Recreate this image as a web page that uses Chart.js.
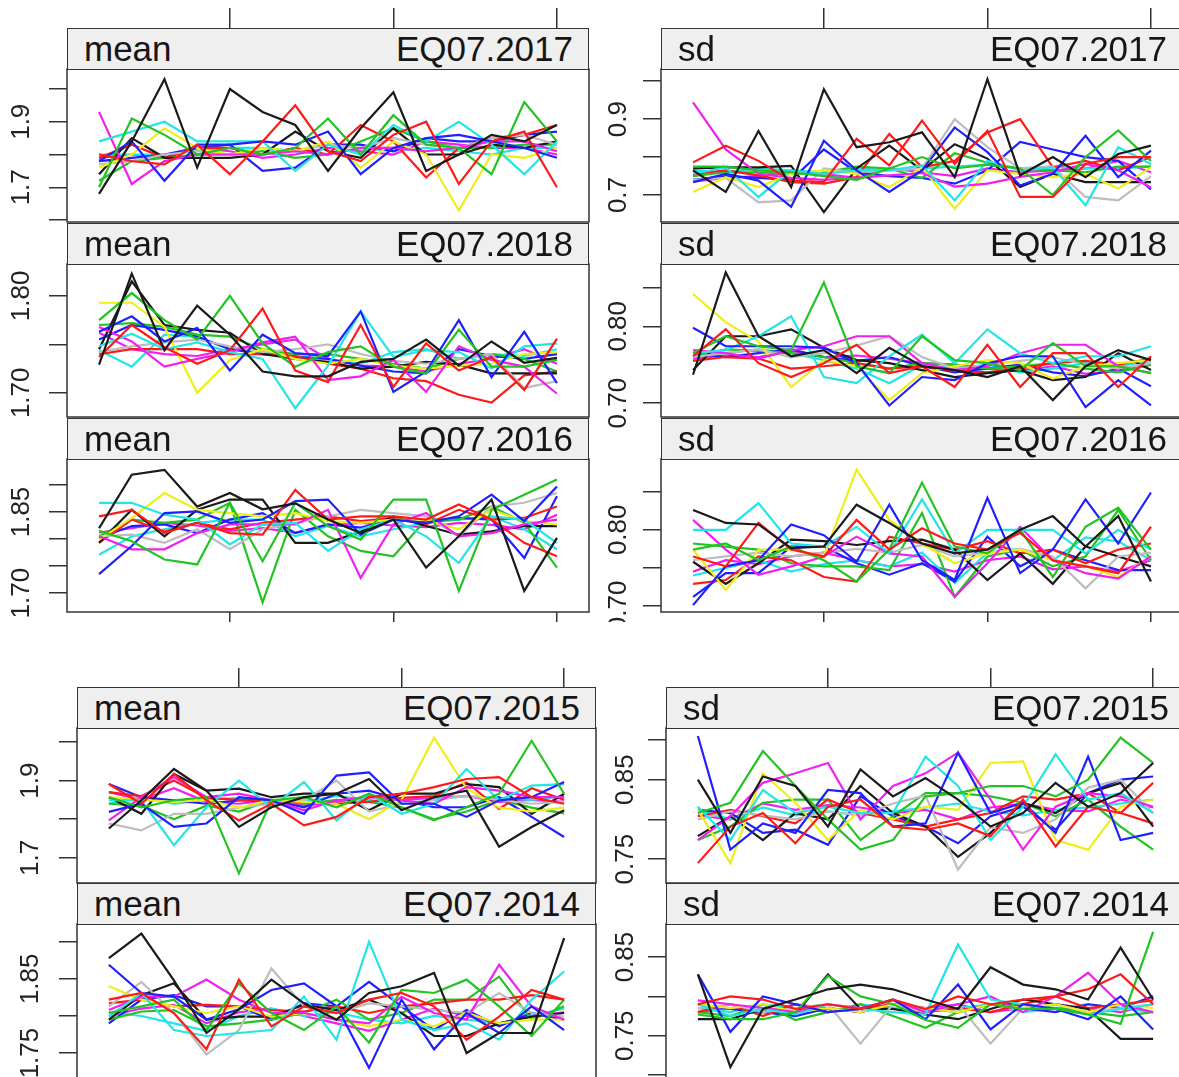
<!DOCTYPE html>
<html>
<head>
<meta charset="utf-8">
<script src="https://cdn.jsdelivr.net/npm/chart.js@4.4.1/dist/chart.umd.min.js"></script>
<style>
  html, body { margin: 0; padding: 0; background: #fff; width: 1179px; height: 1077px; overflow: hidden; }
  .group { position: absolute; left: 0; top: 0; width: 1179px; overflow: hidden; }
  .group canvas { position: absolute; }
  .strip { position: absolute; box-sizing: border-box; background: #efefef; border: 1.5px solid #333;
           font-family: "Liberation Sans", Arial, Helvetica, sans-serif; font-size: 35px; color: #161616; z-index: 2; }
  .strip span { position: absolute; top: 50%; transform: translateY(-52%); line-height: 1; white-space: nowrap; }
  .strip .l { left: 16px; }
  .strip .r { right: 15px; }
</style>
</head>
<body>
<div id="upper" class="group" style="height:622px"></div>
<div id="lower" class="group" style="height:1077px"></div>
<script>
// position of each value along the trace
const steps = [1, 2, 3, 4, 5, 6, 7, 8, 9, 10, 11, 12, 13, 14, 15];

// trace colours, in drawing order
const seriesColors = ['#1a1a1a', '#ff1a1a', '#22c322', '#2020ff', '#22e5e5', '#f020f0', '#eeee1a', '#bdbdbd',
                      '#1a1a1a', '#ff1a1a', '#22c322', '#2020ff', '#22e5e5', '#f020f0'];

// ---- EQ07.2017 ----
const mean2017 = [
  [1.68,1.84,2.03,1.76,2.00,1.93,1.89,1.75,1.88,1.99,1.75,1.80,1.86,1.84,1.89],
  [1.80,1.78,1.77,1.83,1.74,1.84,1.95,1.81,1.78,1.86,1.90,1.71,1.84,1.87,1.70],
  [1.70,1.91,1.86,1.80,1.82,1.80,1.82,1.91,1.80,1.92,1.83,1.82,1.74,1.96,1.84],
  [1.78,1.84,1.72,1.83,1.83,1.84,1.83,1.87,1.74,1.82,1.85,1.86,1.84,1.82,1.79],
  [1.84,1.87,1.90,1.84,1.84,1.84,1.75,1.83,1.80,1.89,1.84,1.90,1.83,1.74,1.84],
  [1.93,1.71,1.78,1.80,1.80,1.80,1.81,1.80,1.82,1.82,1.81,1.82,1.84,1.84,1.81],
  [1.76,1.80,1.88,1.82,1.80,1.82,1.81,1.84,1.76,1.84,1.80,1.63,1.80,1.79,1.82],
  [1.77,1.78,1.80,1.81,1.80,1.80,1.81,1.83,1.82,1.85,1.83,1.82,1.85,1.86,1.83],
  [1.74,1.85,1.79,1.79,1.79,1.80,1.87,1.81,1.79,1.88,1.80,1.80,1.83,1.82,1.84],
  [1.79,1.83,1.79,1.82,1.82,1.80,1.82,1.80,1.89,1.84,1.73,1.82,1.85,1.86,1.89],
  [1.72,1.78,1.79,1.80,1.80,1.81,1.79,1.80,1.84,1.88,1.84,1.82,1.82,1.83,1.83],
  [1.78,1.79,1.80,1.82,1.83,1.75,1.76,1.83,1.83,1.81,1.85,1.84,1.84,1.86,1.87],
  [1.80,1.80,1.80,1.81,1.82,1.82,1.81,1.80,1.82,1.81,1.82,1.81,1.80,1.82,1.82],
  [1.79,1.80,1.79,1.82,1.81,1.79,1.80,1.82,1.81,1.80,1.84,1.83,1.82,1.82,1.80]
];
const sd2017 = [
  [0.765,0.708,0.869,0.721,0.979,0.826,0.839,0.865,0.747,1.005,0.752,0.800,0.747,0.808,0.830],
  [0.786,0.830,0.790,0.738,0.734,0.848,0.778,0.896,0.782,0.869,0.695,0.695,0.782,0.800,0.800],
  [0.775,0.775,0.765,0.760,0.750,0.740,0.770,0.800,0.770,0.780,0.770,0.700,0.800,0.870,0.790],
  [0.734,0.756,0.738,0.669,0.843,0.765,0.708,0.765,0.878,0.813,0.725,0.756,0.856,0.747,0.817],
  [0.756,0.773,0.695,0.765,0.756,0.765,0.765,0.778,0.686,0.790,0.765,0.773,0.673,0.826,0.782],
  [0.944,0.820,0.756,0.745,0.740,0.745,0.752,0.758,0.722,0.730,0.748,0.760,0.782,0.765,0.720],
  [0.708,0.747,0.721,0.756,0.765,0.756,0.721,0.773,0.664,0.765,0.756,0.747,0.756,0.717,0.773],
  [0.740,0.745,0.681,0.686,0.770,0.760,0.765,0.770,0.900,0.826,0.770,0.775,0.695,0.686,0.750],
  [0.770,0.773,0.773,0.777,0.655,0.770,0.830,0.765,0.834,0.796,0.721,0.756,0.734,0.734,0.734],
  [0.756,0.765,0.752,0.734,0.730,0.747,0.861,0.773,0.790,0.865,0.900,0.773,0.790,0.765,0.800],
  [0.750,0.760,0.760,0.755,0.760,0.775,0.770,0.745,0.810,0.785,0.770,0.765,0.760,0.775,0.775],
  [0.740,0.750,0.745,0.740,0.820,0.760,0.750,0.745,0.730,0.765,0.840,0.820,0.800,0.790,0.715],
  [0.765,0.760,0.770,0.765,0.760,0.770,0.765,0.770,0.775,0.780,0.770,0.775,0.770,0.770,0.775],
  [0.735,0.745,0.750,0.760,0.755,0.745,0.770,0.760,0.750,0.770,0.760,0.765,0.770,0.790,0.760]
];

// ---- EQ07.2018 ----
const mean2018 = [
  [1.729,1.823,1.744,1.790,1.760,1.722,1.717,1.717,1.732,1.735,1.755,1.728,1.753,1.731,1.736],
  [1.737,1.770,1.747,1.730,1.744,1.787,1.723,1.711,1.770,1.706,1.751,1.723,1.737,1.703,1.756],
  [1.775,1.803,1.775,1.755,1.800,1.751,1.727,1.742,1.748,1.727,1.720,1.765,1.727,1.727,1.734],
  [1.763,1.779,1.753,1.767,1.723,1.760,1.741,1.738,1.784,1.701,1.722,1.775,1.716,1.763,1.710],
  [1.748,1.761,1.745,1.752,1.742,1.735,1.684,1.728,1.784,1.737,1.744,1.742,1.725,1.748,1.751],
  [1.768,1.753,1.727,1.735,1.742,1.752,1.758,1.713,1.717,1.734,1.701,1.748,1.734,1.727,1.699],
  [1.793,1.793,1.768,1.700,1.734,1.745,1.735,1.730,1.735,1.728,1.725,1.728,1.730,1.740,1.742],
  [1.742,1.748,1.752,1.755,1.748,1.742,1.745,1.750,1.740,1.733,1.730,1.735,1.740,1.705,1.712],
  [1.745,1.815,1.770,1.765,1.762,1.740,1.735,1.732,1.725,1.727,1.732,1.729,1.720,1.720,1.720],
  [1.740,1.745,1.745,1.745,1.740,1.740,1.738,1.730,1.725,1.715,1.712,1.698,1.690,1.718,1.722],
  [1.770,1.772,1.768,1.760,1.758,1.745,1.740,1.740,1.735,1.730,1.725,1.735,1.740,1.735,1.722],
  [1.755,1.770,1.765,1.758,1.745,1.740,1.737,1.735,1.728,1.722,1.720,1.745,1.738,1.735,1.740],
  [1.744,1.727,1.760,1.758,1.745,1.742,1.738,1.735,1.730,1.742,1.745,1.735,1.740,1.738,1.745],
  [1.762,1.745,1.740,1.738,1.745,1.750,1.755,1.735,1.728,1.727,1.722,1.730,1.735,1.745,1.730]
];
const sd2018 = [
  [0.737,0.870,0.787,0.761,0.769,0.739,0.772,0.748,0.743,0.734,0.748,0.704,0.748,0.769,0.756],
  [0.761,0.796,0.752,0.734,0.752,0.776,0.739,0.748,0.721,0.776,0.721,0.765,0.765,0.721,0.761],
  [0.765,0.787,0.774,0.769,0.857,0.748,0.739,0.787,0.756,0.752,0.743,0.778,0.748,0.748,0.739],
  [0.798,0.774,0.774,0.774,0.772,0.752,0.697,0.734,0.730,0.752,0.761,0.761,0.695,0.730,0.697],
  [0.765,0.769,0.787,0.813,0.734,0.726,0.761,0.789,0.752,0.796,0.765,0.752,0.761,0.761,0.774],
  [0.769,0.765,0.758,0.769,0.774,0.787,0.787,0.752,0.743,0.748,0.765,0.776,0.776,0.748,0.739],
  [0.842,0.805,0.780,0.721,0.756,0.748,0.704,0.739,0.748,0.756,0.752,0.732,0.748,0.752,0.756],
  [0.760,0.765,0.770,0.760,0.765,0.775,0.787,0.760,0.745,0.750,0.755,0.760,0.750,0.745,0.752],
  [0.743,0.787,0.787,0.796,0.772,0.756,0.752,0.743,0.734,0.739,0.743,0.730,0.734,0.765,0.743],
  [0.755,0.760,0.758,0.745,0.748,0.752,0.745,0.748,0.742,0.740,0.745,0.752,0.755,0.750,0.758],
  [0.760,0.770,0.768,0.765,0.760,0.752,0.745,0.752,0.750,0.745,0.748,0.752,0.745,0.740,0.750],
  [0.765,0.760,0.765,0.770,0.760,0.755,0.760,0.748,0.740,0.745,0.750,0.740,0.735,0.745,0.722],
  [0.762,0.765,0.770,0.765,0.756,0.745,0.726,0.750,0.745,0.750,0.740,0.745,0.752,0.748,0.755],
  [0.758,0.762,0.760,0.768,0.760,0.762,0.758,0.752,0.750,0.745,0.742,0.748,0.738,0.742,0.750]
];

// ---- EQ07.2016 ----
const mean2016 = [
  [1.820,1.919,1.928,1.860,1.885,1.855,1.866,1.836,1.811,1.836,1.747,1.805,1.873,1.704,1.802],
  [1.842,1.854,1.811,1.830,1.811,1.808,1.891,1.836,1.842,1.842,1.836,1.864,1.836,1.793,1.768],
  [1.815,1.796,1.762,1.753,1.867,1.759,1.867,1.824,1.799,1.873,1.873,1.704,1.854,1.882,1.910],
  [1.735,1.787,1.848,1.851,1.830,1.836,1.870,1.873,1.808,1.836,1.830,1.842,1.882,1.833,1.897],
  [1.867,1.867,1.845,1.836,1.790,1.827,1.830,1.778,1.818,1.836,1.805,1.756,1.842,1.836,1.793],
  [1.805,1.781,1.781,1.811,1.827,1.827,1.827,1.854,1.728,1.827,1.848,1.805,1.811,1.827,1.836],
  [1.799,1.839,1.885,1.854,1.848,1.842,1.848,1.833,1.830,1.836,1.836,1.818,1.854,1.833,1.827],
  [1.805,1.808,1.793,1.818,1.781,1.818,1.830,1.842,1.854,1.848,1.842,1.805,1.860,1.867,1.885],
  [1.793,1.854,1.805,1.854,1.873,1.873,1.793,1.793,1.814,1.842,1.824,1.808,1.814,1.824,1.824],
  [1.793,1.836,1.814,1.830,1.818,1.830,1.836,1.842,1.833,1.839,1.827,1.854,1.836,1.839,1.860],
  [1.805,1.836,1.830,1.836,1.867,1.683,1.854,1.805,1.778,1.768,1.836,1.836,1.860,1.830,1.747],
  [1.802,1.824,1.827,1.811,1.836,1.848,1.811,1.827,1.821,1.836,1.830,1.839,1.836,1.765,1.879],
  [1.771,1.805,1.818,1.830,1.836,1.836,1.805,1.824,1.805,1.818,1.830,1.836,1.842,1.818,1.781],
  [1.812,1.820,1.830,1.825,1.815,1.820,1.812,1.825,1.830,1.825,1.822,1.830,1.826,1.818,1.845]
];
const sd2016 = [
  [0.826,0.809,0.807,0.776,0.778,0.833,0.809,0.782,0.769,0.774,0.800,0.818,0.778,0.818,0.732],
  [0.765,0.752,0.809,0.774,0.765,0.813,0.774,0.802,0.782,0.774,0.796,0.760,0.752,0.743,0.804],
  [0.774,0.782,0.760,0.778,0.760,0.732,0.774,0.862,0.778,0.769,0.800,0.738,0.804,0.829,0.774],
  [0.701,0.752,0.760,0.807,0.793,0.758,0.833,0.760,0.734,0.842,0.743,0.774,0.840,0.782,0.849],
  [0.800,0.800,0.835,0.782,0.778,0.804,0.769,0.840,0.769,0.800,0.800,0.800,0.769,0.800,0.774],
  [0.813,0.774,0.741,0.752,0.765,0.791,0.769,0.765,0.712,0.756,0.804,0.760,0.743,0.736,0.765],
  [0.774,0.721,0.774,0.774,0.765,0.879,0.813,0.782,0.756,0.769,0.774,0.760,0.752,0.738,0.765],
  [0.760,0.765,0.770,0.765,0.770,0.775,0.770,0.780,0.765,0.770,0.775,0.765,0.723,0.765,0.770],
  [0.758,0.729,0.756,0.787,0.785,0.780,0.785,0.787,0.774,0.734,0.769,0.729,0.778,0.765,0.752],
  [0.729,0.734,0.765,0.760,0.738,0.732,0.791,0.782,0.774,0.785,0.769,0.774,0.756,0.774,0.782],
  [0.782,0.778,0.774,0.756,0.752,0.752,0.747,0.822,0.712,0.765,0.774,0.752,0.765,0.826,0.760],
  [0.712,0.743,0.743,0.778,0.778,0.756,0.741,0.756,0.732,0.791,0.752,0.774,0.760,0.747,0.747],
  [0.740,0.750,0.760,0.745,0.755,0.760,0.752,0.770,0.730,0.770,0.775,0.760,0.790,0.785,0.760],
  [0.745,0.760,0.755,0.765,0.770,0.760,0.752,0.755,0.745,0.760,0.765,0.748,0.752,0.745,0.760]
];

// ---- EQ07.2015 ----
const mean2015 = [
  [1.776,1.849,1.930,1.874,1.780,1.831,1.857,1.866,1.904,1.823,1.857,1.874,1.729,1.780,1.823],
  [1.891,1.840,1.917,1.849,1.797,1.840,1.784,1.806,1.857,1.866,1.883,1.904,1.909,1.857,1.840],
  [1.857,1.831,1.849,1.857,1.660,1.849,1.857,1.831,1.866,1.831,1.797,1.831,1.866,2.003,1.866],
  [1.819,1.840,1.780,1.789,1.857,1.849,1.814,1.913,1.921,1.840,1.840,1.806,1.849,1.857,1.896],
  [1.849,1.849,1.733,1.831,1.900,1.831,1.896,1.797,1.866,1.814,1.840,1.930,1.849,1.887,1.891],
  [1.797,1.857,1.909,1.857,1.866,1.849,1.823,1.849,1.857,1.849,1.840,1.883,1.874,1.857,1.857],
  [1.857,1.850,1.845,1.850,1.830,1.850,1.845,1.840,1.800,1.850,2.011,1.880,1.830,1.820,1.830],
  [1.789,1.771,1.814,1.814,1.830,1.840,1.850,1.900,1.820,1.840,1.850,1.860,1.850,1.840,1.845],
  [1.857,1.814,1.917,1.874,1.879,1.857,1.866,1.866,1.823,1.866,1.866,1.891,1.883,1.814,1.866],
  [1.870,1.860,1.900,1.855,1.850,1.845,1.845,1.840,1.845,1.855,1.860,1.895,1.827,1.880,1.850],
  [1.840,1.835,1.800,1.835,1.820,1.850,1.840,1.850,1.845,1.830,1.800,1.820,1.850,1.830,1.815],
  [1.891,1.857,1.849,1.840,1.849,1.849,1.831,1.866,1.874,1.849,1.831,1.831,1.857,1.806,1.754],
  [1.840,1.860,1.840,1.850,1.855,1.850,1.845,1.860,1.850,1.840,1.850,1.860,1.855,1.850,1.860],
  [1.870,1.850,1.880,1.845,1.840,1.850,1.835,1.845,1.860,1.850,1.855,1.860,1.845,1.850,1.845]
];
const sd2015 = [
  [0.850,0.783,0.854,0.842,0.791,0.863,0.829,0.852,0.825,0.791,0.808,0.846,0.816,0.833,0.871],
  [0.745,0.791,0.808,0.770,0.816,0.825,0.791,0.787,0.795,0.779,0.825,0.766,0.816,0.808,0.846],
  [0.808,0.821,0.886,0.842,0.800,0.762,0.774,0.829,0.833,0.842,0.842,0.829,0.850,0.903,0.871],
  [0.905,0.762,0.795,0.783,0.837,0.833,0.791,0.795,0.884,0.808,0.821,0.783,0.879,0.774,0.783],
  [0.816,0.774,0.837,0.808,0.816,0.808,0.808,0.879,0.842,0.774,0.816,0.882,0.825,0.833,0.808],
  [0.774,0.804,0.846,0.858,0.871,0.800,0.842,0.858,0.884,0.825,0.762,0.816,0.833,0.829,0.816],
  [0.812,0.745,0.858,0.821,0.774,0.812,0.800,0.816,0.812,0.871,0.873,0.774,0.762,0.816,0.825],
  [0.800,0.810,0.805,0.800,0.810,0.805,0.820,0.830,0.737,0.790,0.783,0.800,0.840,0.850,0.808],
  [0.779,0.804,0.774,0.808,0.800,0.842,0.808,0.791,0.753,0.783,0.821,0.808,0.833,0.846,0.791],
  [0.804,0.812,0.804,0.795,0.825,0.808,0.800,0.791,0.800,0.808,0.829,0.825,0.833,0.808,0.795],
  [0.774,0.791,0.821,0.825,0.825,0.774,0.804,0.833,0.833,0.829,0.821,0.804,0.825,0.791,0.762],
  [0.812,0.808,0.783,0.787,0.768,0.829,0.804,0.791,0.770,0.804,0.816,0.787,0.833,0.850,0.854],
  [0.812,0.800,0.815,0.805,0.810,0.805,0.810,0.815,0.820,0.810,0.805,0.812,0.815,0.820,0.825],
  [0.805,0.800,0.820,0.812,0.818,0.815,0.808,0.812,0.800,0.815,0.820,0.812,0.810,0.825,0.815]
];

// ---- EQ07.2014 ----
const mean2014 = [
  [1.878,1.911,1.848,1.777,1.809,1.849,1.817,1.795,1.831,1.840,1.858,1.750,1.777,1.777,1.905],
  [1.822,1.831,1.804,1.755,1.849,1.786,1.813,1.804,1.822,1.831,1.813,1.768,1.799,1.835,1.822],
  [1.804,1.813,1.822,1.781,1.844,1.804,1.781,1.813,1.764,1.835,1.831,1.849,1.813,1.773,1.822],
  [1.869,1.831,1.826,1.795,1.809,1.835,1.844,1.813,1.730,1.822,1.755,1.804,1.777,1.813,1.781],
  [1.799,1.831,1.781,1.773,1.777,1.781,1.826,1.768,1.900,1.795,1.781,1.790,1.768,1.822,1.860],
  [1.808,1.826,1.826,1.849,1.822,1.804,1.804,1.795,1.790,1.826,1.804,1.795,1.869,1.813,1.795],
  [1.840,1.822,1.813,1.804,1.813,1.799,1.804,1.795,1.786,1.795,1.786,1.804,1.790,1.795,1.795],
  [1.813,1.846,1.804,1.748,1.781,1.864,1.813,1.804,1.817,1.813,1.808,1.804,1.831,1.804,1.799],
  [1.795,1.828,1.844,1.795,1.799,1.799,1.815,1.808,1.822,1.804,1.773,1.773,1.790,1.799,1.804],
  [1.817,1.822,1.813,1.815,1.813,1.808,1.806,1.813,1.804,1.813,1.817,1.822,1.822,1.828,1.822],
  [1.795,1.806,1.808,1.786,1.790,1.795,1.804,1.822,1.795,1.804,1.822,1.822,1.853,1.795,1.813],
  [1.790,1.822,1.828,1.813,1.813,1.795,1.817,1.813,1.846,1.813,1.781,1.808,1.786,1.804,1.795],
  [1.805,1.800,1.790,1.780,1.800,1.810,1.800,1.805,1.795,1.790,1.800,1.795,1.790,1.800,1.810],
  [1.800,1.810,1.815,1.790,1.805,1.810,1.800,1.790,1.780,1.795,1.810,1.800,1.790,1.800,1.805]
];
const sd2014 = [
  [0.828,0.710,0.784,0.796,0.809,0.815,0.809,0.796,0.784,0.837,0.815,0.809,0.796,0.862,0.796],
  [0.790,0.800,0.796,0.784,0.790,0.784,0.796,0.784,0.800,0.790,0.796,0.800,0.809,0.828,0.790],
  [0.777,0.771,0.771,0.780,0.826,0.800,0.790,0.770,0.760,0.790,0.784,0.784,0.777,0.765,0.882],
  [0.828,0.755,0.800,0.790,0.780,0.784,0.796,0.771,0.815,0.758,0.790,0.784,0.771,0.800,0.758],
  [0.790,0.775,0.784,0.777,0.790,0.784,0.780,0.777,0.866,0.796,0.790,0.784,0.777,0.784,0.790],
  [0.795,0.790,0.785,0.780,0.790,0.785,0.795,0.780,0.790,0.800,0.780,0.800,0.830,0.790,0.780],
  [0.790,0.785,0.790,0.780,0.785,0.780,0.790,0.785,0.780,0.790,0.785,0.790,0.780,0.790,0.785],
  [0.785,0.790,0.780,0.785,0.790,0.740,0.790,0.780,0.790,0.740,0.785,0.790,0.780,0.785,0.790],
  [0.771,0.771,0.784,0.777,0.828,0.784,0.784,0.777,0.771,0.784,0.796,0.790,0.784,0.746,0.746],
  [0.780,0.790,0.775,0.790,0.780,0.785,0.790,0.780,0.785,0.780,0.790,0.800,0.785,0.790,0.795],
  [0.780,0.775,0.790,0.770,0.780,0.790,0.775,0.760,0.780,0.790,0.790,0.785,0.780,0.775,0.780],
  [0.790,0.784,0.780,0.775,0.785,0.780,0.790,0.785,0.780,0.790,0.785,0.780,0.790,0.785,0.800],
  [0.785,0.780,0.790,0.785,0.780,0.790,0.785,0.780,0.785,0.790,0.780,0.785,0.790,0.785,0.780],
  [0.780,0.785,0.780,0.790,0.785,0.780,0.790,0.785,0.790,0.780,0.785,0.790,0.785,0.780,0.790]
];

// labelled y ticks of each panel
const mean2017Labels = ['1.9', '1.7'];
const sd2017Labels   = ['0.9', '0.7'];
const mean2018Labels = ['1.80', '1.70'];
const sd2018Labels   = ['0.80', '0.70'];
const mean2016Labels = ['1.85', '1.70'];
const sd2016Labels   = ['0.80', '0.70'];
const mean2015Labels = ['1.9', '1.7'];
const sd2015Labels   = ['0.85', '0.75'];
const mean2014Labels = ['1.85', '1.75'];
const sd2014Labels   = ['0.85', '0.75'];

const FONT = '"Liberation Sans", Arial, Helvetica, sans-serif';
const TICK_PX = 26;
const measureCtx = document.createElement('canvas').getContext('2d');
measureCtx.font = TICK_PX + 'px ' + FONT;

// panel layout: [group, stat, year, values, labels, yMin, yMax, yStep, left, top, width, height, labelOffset, topTick, bottomTick]
const panels = [
  ['upper', 'mean', 'EQ07.2017', mean2017, mean2017Labels, 1.594, 2.061, 0.1,  67, 69, 522, 153, 45, 61, 0],
  ['upper', 'sd',   'EQ07.2017', sd2017,   sd2017Labels,   0.629, 1.032, 0.1, 661, 69, 522, 153, 42, 61, 0],
  ['upper', 'mean', 'EQ07.2018', mean2018, mean2018Labels, 1.675, 1.833, 0.05,  67, 264, 522, 153, 45, 0, 0],
  ['upper', 'sd',   'EQ07.2018', sd2018,   sd2018Labels,   0.682, 0.881, 0.05, 661, 264, 522, 153, 42, 0, 0],
  ['upper', 'mean', 'EQ07.2016', mean2016, mean2016Labels, 1.665, 1.948, 0.05,  67, 459, 522, 153, 45, 0, 20],
  ['upper', 'sd',   'EQ07.2016', sd2016,   sd2016Labels,   0.692, 0.893, 0.05, 661, 459, 522, 153, 42, 0, 20],
  ['lower', 'mean', 'EQ07.2015', mean2015, mean2015Labels, 1.635, 2.036, 0.1,  77, 728, 519, 155, 46, 60, 0],
  ['lower', 'sd',   'EQ07.2015', sd2015,   sd2015Labels,   0.720, 0.915, 0.05, 666, 728, 519, 155, 40, 60, 0],
  ['lower', 'mean', 'EQ07.2014', mean2014, mean2014Labels, 1.715, 1.924, 0.05,  77, 924, 519, 155, 46, 0, 0],
  ['lower', 'sd',   'EQ07.2014', sd2014,   sd2014Labels,   0.695, 0.892, 0.05, 666, 924, 519, 155, 40, 0, 0]
];

const panelFrame = {
  id: 'panelFrame',
  afterDraw(chart) {
    const { ctx, chartArea: a } = chart;
    ctx.save();
    ctx.strokeStyle = '#333';
    ctx.lineWidth = 1.5;
    ctx.strokeRect(a.left, a.top, a.right - a.left, a.bottom - a.top);
    ctx.restore();
  }
};

function noPadding(scale) {
  scale.paddingTop = 0; scale.paddingBottom = 0; scale.paddingLeft = 0; scale.paddingRight = 0;
}

function xAxis(position, tickLength) {
  return {
    type: 'linear', axis: 'x', position, min: 0.02, max: 15.98, display: tickLength > 0,
    ticks: { display: false, stepSize: 5, includeBounds: false },
    grid: { drawOnChartArea: false, drawTicks: true, tickLength: Math.max(tickLength, 1), color: '#333', lineWidth: 1.5 },
    border: { display: false },
    afterFit: s => { s.height = 0; noPadding(s); }
  };
}

function drawPanel([group, stat, year, values, labels, yMin, yMax, yStep, left, top, width, height, labelOffset, topTick, bottomTick]) {
  const EXTRA_T = 70, EXTRA_B = 32, AXIS_W = 70, RIGHT_PAD = 4, TICK_LEN = 18;
  const host = document.getElementById(group);
  const canvas = document.createElement('canvas');
  const W = AXIS_W + width + RIGHT_PAD, H = EXTRA_T + height + EXTRA_B;
  canvas.width = W; canvas.height = H;
  canvas.style.left = (left - AXIS_W) + 'px';
  canvas.style.top = (top - EXTRA_T) + 'px';
  canvas.style.width = W + 'px';
  canvas.style.height = H + 'px';
  host.appendChild(canvas);

  const decimals = labels[0].split('.')[1].length;
  const widest = Math.max(...labels.map(s => measureCtx.measureText(s).width));
  const labelPad = labelOffset - TICK_LEN - widest / 2;

  new Chart(canvas, {
    type: 'line',
    data: {
      datasets: values.map((vals, i) => ({
        data: vals.map((v, k) => ({ x: steps[k], y: v })),
        xAxisID: 'x', yAxisID: 'y',
        borderColor: seriesColors[i % seriesColors.length],
        borderWidth: 2.2, pointRadius: 0, tension: 0, fill: false
      }))
    },
    options: {
      responsive: false, animation: false, devicePixelRatio: 1,
      layout: { padding: { top: EXTRA_T, bottom: EXTRA_B, left: 0, right: RIGHT_PAD } },
      plugins: { legend: { display: false }, tooltip: { enabled: false } },
      scales: {
        x: xAxis('top', topTick),
        xb: xAxis('bottom', bottomTick),
        y: {
          type: 'linear', position: 'left', min: yMin, max: yMax,
          ticks: {
            stepSize: yStep, includeBounds: false, autoSkip: false,
            minRotation: 90, maxRotation: 90, crossAlign: 'center', padding: labelPad,
            color: '#222', font: { family: FONT, size: TICK_PX },
            callback: v => { const s = Number(v).toFixed(decimals); return labels.includes(s) ? s : ''; }
          },
          grid: { drawOnChartArea: false, drawTicks: true, tickLength: TICK_LEN, color: '#333', lineWidth: 1.5 },
          border: { display: false },
          afterFit: s => { s.width = AXIS_W; noPadding(s); }
        }
      }
    },
    plugins: [panelFrame]
  });

  const strip = document.createElement('div');
  strip.className = 'strip';
  strip.style.left = left + 'px';
  strip.style.top = (top - 41) + 'px';
  strip.style.width = width + 'px';
  strip.style.height = '42px';
  const l = document.createElement('span'); l.className = 'l'; l.textContent = stat;
  const r = document.createElement('span'); r.className = 'r'; r.textContent = year;
  strip.appendChild(l); strip.appendChild(r);
  host.appendChild(strip);
}

panels.forEach(drawPanel);
</script>
</body>
</html>
